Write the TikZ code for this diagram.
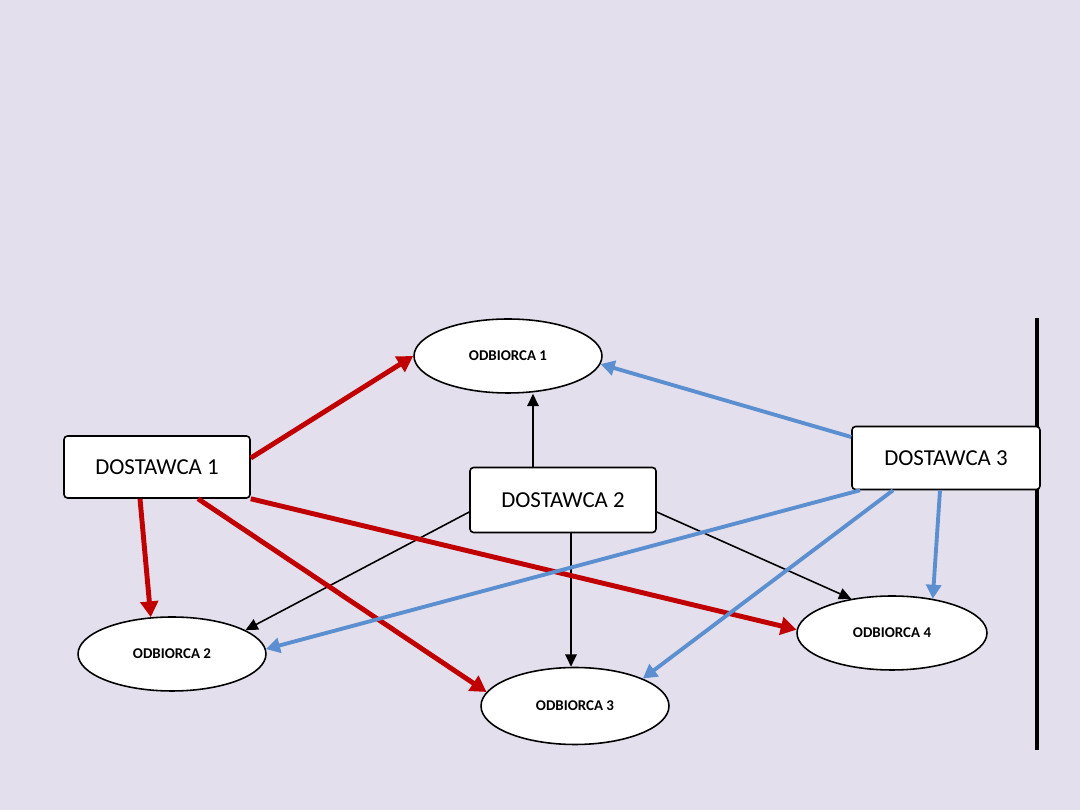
\documentclass[tikz,border=0pt]{standalone}
\usepackage{fontspec}
\setmainfont{Carlito}
\usetikzlibrary{arrows.meta,calc,shapes.geometric}
\definecolor{bgcol}{HTML}{E4DFEC}
\definecolor{redarr}{HTML}{C00000}
\definecolor{bluearr}{HTML}{5B8FCF}
\tikzset{
  supplier/.style={draw=black, line width=0.9pt, fill=white, rounded corners=2pt,
    inner sep=0pt, minimum width=3.72cm, minimum height=1.24cm,
    font=\fontsize{13}{15}\selectfont},
  receiver/.style={ellipse, draw=black, line width=0.9pt, fill=white,
    inner sep=0pt, minimum width=3.76cm, minimum height=1.48cm,
    font=\bfseries\fontsize{8.5}{10}\selectfont},
  redline/.style={draw=redarr, line width=2.8pt, -{Triangle[length=9pt,width=10pt]}},
  blueline/.style={draw=bluearr, line width=2.2pt, -{Triangle[length=8pt,width=8.5pt]}},
  blackline/.style={draw=black, line width=0.9pt, -{Triangle[length=7pt,width=6.5pt]}},
}
\begin{document}
\begin{tikzpicture}[x=0.02cm,y=-0.02cm]
\fill[bgcol] (0,0) rectangle (1080,810);
\useasboundingbox (0,0) rectangle (1080,810);
% vertical bar
\draw[line width=2.3pt] (1037,318) coordinate (barTop) -- (1037,750) coordinate (barBot);
% nodes
\node[receiver] (o1) at (508,356) {ODBIORCA 1};
\node[receiver] (o2) at (172,654) {ODBIORCA 2};
\node[receiver, minimum height=1.54cm] (o3) at (575,706) {ODBIORCA 3};
\node[receiver, minimum width=3.8cm] (o4) at (892,633) {ODBIORCA 4};
\node[supplier] (d1) at (157,467) {DOSTAWCA 1};
\node[supplier, minimum height=1.3cm] (d2) at (563,500) {DOSTAWCA 2};
\node[supplier, minimum width=3.76cm, minimum height=1.26cm] (d3) at (946,458) {DOSTAWCA 3};
% black arrows
\draw[blackline] ($(d2.north)+(-30,0)$) coordinate (b1s) -- (b1s |- o1.south);
\draw[blackline] ($(d2.west)+(0,12)$) -- (o2.18);
\draw[blackline] ($(d2.south)+(8,0)$) coordinate (b3s) -- (b3s |- o3.north);
\draw[blackline] ($(d2.east)+(0,12)$) -- (o4.140);
% red arrows
\draw[redline] ($(d1.east)+(0,-9)$) -- (o1.west);
\draw[redline] ($(d1.south)+(-17,0)$) -- (o2.120);
\draw[redline] ($(d1.south)+(41,0)$) -- (o3.171);
\draw[redline] (d1.south east) -- (o4.178);
% blue arrows
\draw[blueline] ($(d3.west)+(0,-21)$) -- (o1.355);
\draw[blueline] ($(d3.south)+(-86,0)$) -- (o2.3);
\draw[blueline] ($(d3.south)+(-53,0)$) -- (o3.22);
\draw[blueline] ($(d3.south)+(-6,0)$) -- (o4.40);
\end{tikzpicture}
\end{document}
